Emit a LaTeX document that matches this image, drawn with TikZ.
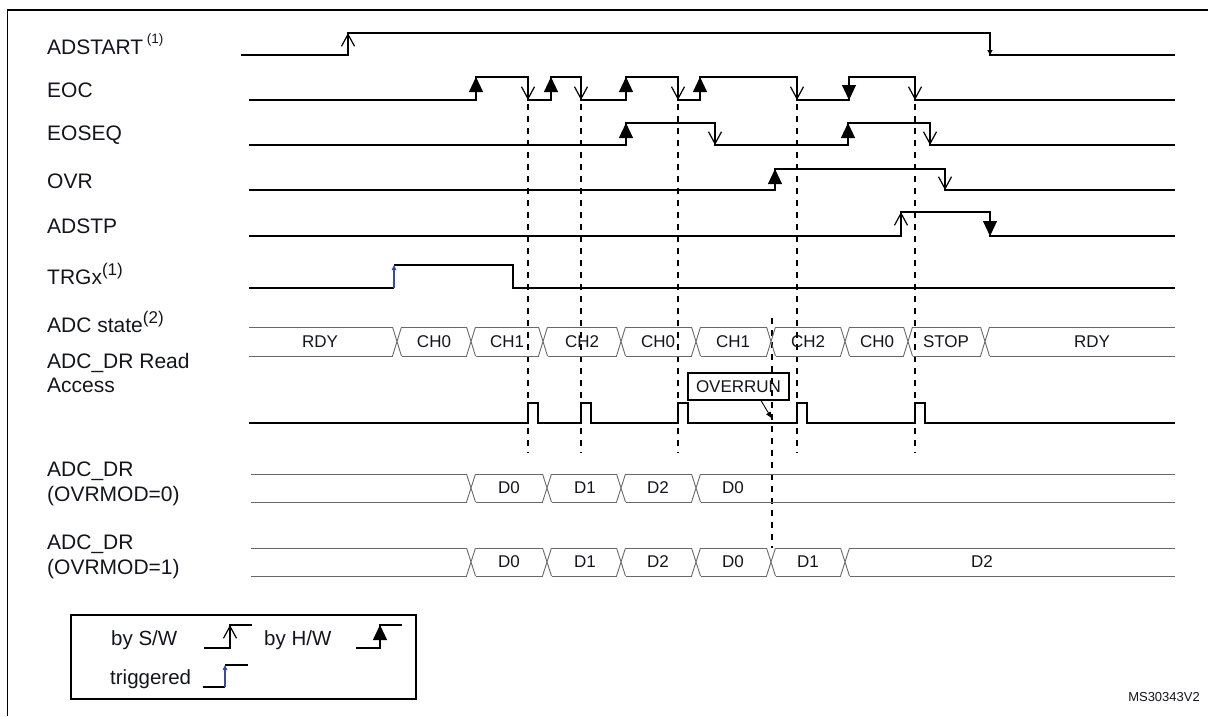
\documentclass[tikz,border=0pt]{standalone}
\usepackage{fontspec}
\setmainfont{Liberation Sans}
\usetikzlibrary{arrows.meta,calc}
\definecolor{trig}{RGB}{55,75,165}
\definecolor{busc}{RGB}{105,105,105}
\definecolor{txt}{RGB}{20,20,30}
\newcommand\lblfont{\fontsize{21}{24.5}\selectfont}
\newcommand\busfont{\fontsize{17}{20}\selectfont}
\newcommand\legfont{\fontsize{20.5}{22}\selectfont}
\newcommand\mysupA[1]{\raisebox{0.5em}{\fontsize{13.5}{14}\selectfont #1}}
\newcommand\mysupB[1]{\raisebox{0.42em}{\fontsize{17}{17}\selectfont #1}}
\newcommand\xing[3]{\draw[bus] (#1-4.5,#2)--(#1+4.5,#3) (#1-4.5,#3)--(#1+4.5,#2);}
\begin{document}
\begin{tikzpicture}[x=1pt,y=-1pt,
  sig/.style={line width=1.2pt},
  sw/.style={sig,-{Straight Barb[length=12pt,width=13pt]}},
  hw/.style={sig,-{Triangle[length=15pt,width=14pt]}},
  tinyarr/.style={sig,-{Triangle[length=5pt,width=5pt]}},
  trg/.style={line width=1.6pt,draw=trig,-{Triangle[length=5pt,width=4.5pt]}},
  bus/.style={line width=0.9pt,draw=busc},
  guide/.style={line width=1.1pt,dash pattern=on 6pt off 6pt},
  lbl/.style={anchor=west,inner sep=0pt,font=\lblfont,text=txt,align=left},
  bt/.style={inner sep=0pt,font=\busfont,text=txt},
  lg/.style={anchor=west,inner sep=0pt,font=\legfont,text=txt},
]
\useasboundingbox (0,0) rectangle (1208,716);
% frame
\draw[line width=1.4pt] (7.5,716) -- (7.5,10) -- (1208,10);

% labels
\node[lbl] (lADSTART) at (47,44) {ADSTART\,\mysupA{(1)}};
\node[lbl] (lEOC) at (47,90) {EOC};
\node[lbl] (lEOSEQ) at (47,135) {EOSEQ};
\node[lbl] (lOVR) at (47,181) {OVR};
\node[lbl] (lADSTP) at (47,226) {ADSTP};
\node[lbl] (lTRGx) at (47,274) {TRGx\mysupB{(1)}};
\node[lbl] (lstate) at (47,322) {ADC state\mysupB{(2)}};
\node[lbl] (lread) at (47,373) {ADC\_DR Read\\Access};
\node[lbl] (ldr0) at (47,484) {ADC\_DR\\(OVRMOD=0)};
\node[lbl] (ldr1) at (47,557) {ADC\_DR\\(OVRMOD=1)};

% dashed guides
\foreach \gx in {528,581,678,797,915}{\draw[guide] (\gx,104) -- (\gx,453);}
\draw[guide] (772,318) -- (772,548);

% ADSTART
\draw[sig] (241,55) -- (348,55) -- (348,33) -- (990,33) -- (990,55) -- (1175,55);
\draw[sw] (348,55) -- (348,33);
\draw[tinyarr] (990,33) -- (990,55);

% EOC
\draw[sig] (249,100) -- (476,100) -- (476,77) -- (528,77) -- (528,100) -- (551,100) -- (551,77) -- (581,77) -- (581,100) -- (626,100) -- (626,77) -- (678,77) -- (678,100) -- (700,100) -- (700,77) -- (797,77) -- (797,100) -- (849,100) -- (849,77) -- (915,77) -- (915,100) -- (1175,100);
\foreach \ex in {476,551,626,700}{\draw[hw] (\ex,100) -- (\ex,77);}
\foreach \ex in {528,581,678,797,915}{\draw[sw] (\ex,77) -- (\ex,100);}
\draw[hw] (849,77) -- (849,100);

% EOSEQ
\draw[sig] (249,145) -- (626,145) -- (626,123) -- (715,123) -- (715,145) -- (848,145) -- (848,123) -- (930,123) -- (930,145) -- (1175,145);
\foreach \ex in {626,848}{\draw[hw] (\ex,145) -- (\ex,123);}
\foreach \ex in {715,930}{\draw[sw] (\ex,123) -- (\ex,145);}

% OVR
\draw[sig] (249,190) -- (775,190) -- (775,169) -- (945,169) -- (945,190) -- (1175,190);
\draw[hw] (775,190) -- (775,169);
\draw[sw] (945,169) -- (945,190);

% ADSTP
\draw[sig] (249,236) -- (901,236) -- (901,212) -- (990,212) -- (990,236) -- (1175,236);
\draw[sw] (901,236) -- (901,212);
\draw[hw] (990,212) -- (990,236);

% TRGx
\draw[sig] (249,288) -- (394,288);
\draw[sig] (394,265) -- (513,265) -- (513,288) -- (1175,288);
\draw[trg] (394,288) -- (394,265);

% ADC state bus
\def\yt{327}\def\yb{356}
\draw[bus] (249,\yt) -- (392.5,\yt) (249,\yb) -- (392.5,\yb);
\foreach \a/\b in {397/471,471/543,543/621,621/696,696/771,771/845,845/908,908/985}{
  \draw[bus] (\a+4.5,\yt) -- (\b-4.5,\yt) (\a+4.5,\yb) -- (\b-4.5,\yb);}
\draw[bus] (989.5,\yt) -- (1175,\yt) (989.5,\yb) -- (1175,\yb);
\foreach \c in {397,471,543,621,696,771,845,908,985}{\xing{\c}{\yt}{\yb}}
\node[bt] (s1) at (320,341.5) {RDY};
\node[bt] (s2) at (434,341.5) {CH0};
\node[bt] (s3) at (507,341.5) {CH1};
\node[bt] (s4) at (582,341.5) {CH2};
\node[bt] (s5) at (658,341.5) {CH0};
\node[bt] (s6) at (733,341.5) {CH1};
\node[bt] (s7) at (808,341.5) {CH2};
\node[bt] (s8) at (877,341.5) {CH0};
\node[bt] (s9) at (946,341.5) {STOP};
\node[bt] (s10) at (1092,341.5) {RDY};

% ADC_DR read access
\draw[sig] (249,423) -- (528,423) -- (528,403) -- (538,403) -- (538,423) -- (581,423) -- (581,403) -- (591,403) -- (591,423) -- (678,423) -- (678,403) -- (688,403) -- (688,423) -- (797,423) -- (797,403) -- (807,403) -- (807,423) -- (915,423) -- (915,403) -- (925,403) -- (925,423) -- (1175,423);
\node[draw,line width=1.1pt,minimum width=101pt,minimum height=27pt,inner sep=0pt,font=\busfont,text=txt] (ovrbox) at (738.5,386.5) {OVERRUN};
\coordinate (ovrpt) at (771.5,418);
\draw[line width=0.9pt,-{Triangle[length=6pt,width=5pt]}] ($(ovrbox.south west)!0.72!(ovrbox.south east)$) -- (ovrpt);

% ADC_DR OVRMOD=0
\def\yt{474}\def\yb{502}
\draw[bus] (251,\yt) -- (466.5,\yt) (251,\yb) -- (466.5,\yb);
\foreach \a/\b in {471/547,547/621,621/696}{
  \draw[bus] (\a+4.5,\yt) -- (\b-4.5,\yt) (\a+4.5,\yb) -- (\b-4.5,\yb);}
\draw[bus] (700.5,\yt) -- (1175,\yt) (700.5,\yb) -- (1175,\yb);
\foreach \c in {471,547,621,696}{\xing{\c}{\yt}{\yb}}
\node[bt] (a1) at (509,488) {D0};
\node[bt] (a2) at (585,488) {D1};
\node[bt] (a3) at (658,488) {D2};
\node[bt] (a4) at (733,488) {D0};

% ADC_DR OVRMOD=1
\def\yt{548}\def\yb{576}
\draw[bus] (251,\yt) -- (466.5,\yt) (251,\yb) -- (466.5,\yb);
\foreach \a/\b in {471/547,547/621,621/696,696/771,771/845}{
  \draw[bus] (\a+4.5,\yt) -- (\b-4.5,\yt) (\a+4.5,\yb) -- (\b-4.5,\yb);}
\draw[bus] (849.5,\yt) -- (1175,\yt) (849.5,\yb) -- (1175,\yb);
\foreach \c in {471,547,621,696,771,845}{\xing{\c}{\yt}{\yb}}
\node[bt] (b1) at (509,562) {D0};
\node[bt] (b2) at (585,562) {D1};
\node[bt] (b3) at (658,562) {D2};
\node[bt] (b4) at (733,562) {D0};
\node[bt] (b5) at (808,562) {D1};
\node[bt] (b6) at (982,562) {D2};

% legend
\node[draw,line width=1.1pt,minimum width=345pt,minimum height=84pt,inner sep=0pt] (legend) at (243.5,657) {};
\node[lg] (lsw) at (111,640) {by S/W};
\node[lg] (lhw) at (264,640) {by H/W};
\node[lg] (ltr) at (110,679) {triggered};
\draw[sig] (204,648) -- (230,648) -- (230,625) -- (252,625);
\draw[sw] (230,648) -- (230,625);
\draw[sig] (356,648) -- (380,648) -- (380,625) -- (402,625);
\draw[hw] (380,648) -- (380,625);
\draw[sig] (203,687) -- (225,687);
\draw[sig] (225,665) -- (248,665);
\draw[trg] (225,687) -- (225,665);

\node[anchor=east,inner sep=0pt,font=\fontsize{13}{15}\selectfont,text=txt] (ms) at (1200,697) {MS30343V2};
\end{tikzpicture}
\end{document}
